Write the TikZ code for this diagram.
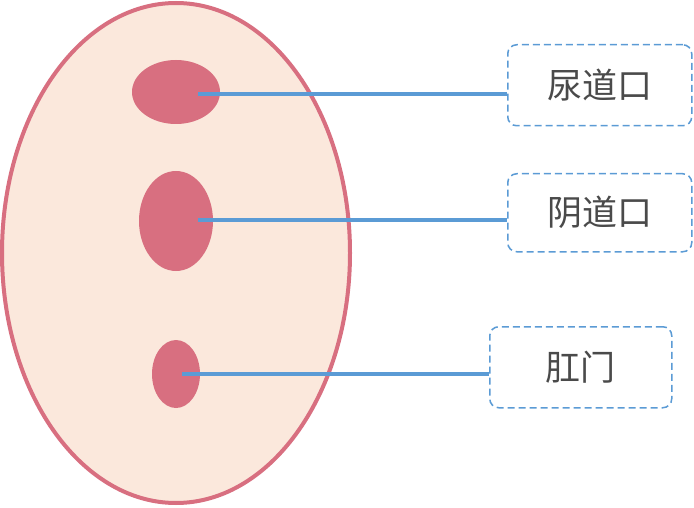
\documentclass[tikz,border=0pt]{standalone}
\usepackage{fontspec}
\newfontfamily\cjk{Noto Sans CJK SC}
\begin{document}
\begin{tikzpicture}[x=1pt,y=-1pt,
  organ/.style={ellipse,fill=organc,draw=none,inner sep=0pt},
  lbl/.style={draw=boxc,dash pattern=on 7pt off 4pt,line width=1.5pt,rounded corners=9pt,fill=white,text=textc,font=\cjk\fontsize{35}{35}\selectfont,anchor=north west},
  conn/.style={draw=linec,line width=4pt}]
\definecolor{organc}{HTML}{D86F80}
\definecolor{skin}{HTML}{FBE8DC}
\definecolor{linec}{HTML}{5B9BD5}
\definecolor{boxc}{HTML}{5B9BD5}
\definecolor{textc}{HTML}{4A4A4A}
\useasboundingbox (0,0) rectangle (694,508);
\draw[draw=organc,fill=skin,line width=4pt] (176,253) ellipse [x radius=174,y radius=250];
\fill[organc] (176,92) ellipse [x radius=44,y radius=32];
\fill[organc] (176,221) ellipse [x radius=37,y radius=50];
\fill[organc] (176,374) ellipse [x radius=24,y radius=34];
\coordinate (a) at (198,94);
\coordinate (b) at (198,220);
\coordinate (c) at (182,374);
\node[lbl,minimum width=184pt,minimum height=81pt] (la) at (507,44) {尿道口};
\node[lbl,minimum width=184pt,minimum height=78pt] (lb) at (507,173) {阴道口};
\node[lbl,minimum width=182pt,minimum height=81pt] (lc) at (489,326) {肛门};
\draw[conn] (a) -- (a -| la.west);
\draw[conn] (b) -- (b -| lb.west);
\draw[conn] (c) -- (c -| lc.west);
\end{tikzpicture}
\end{document}
